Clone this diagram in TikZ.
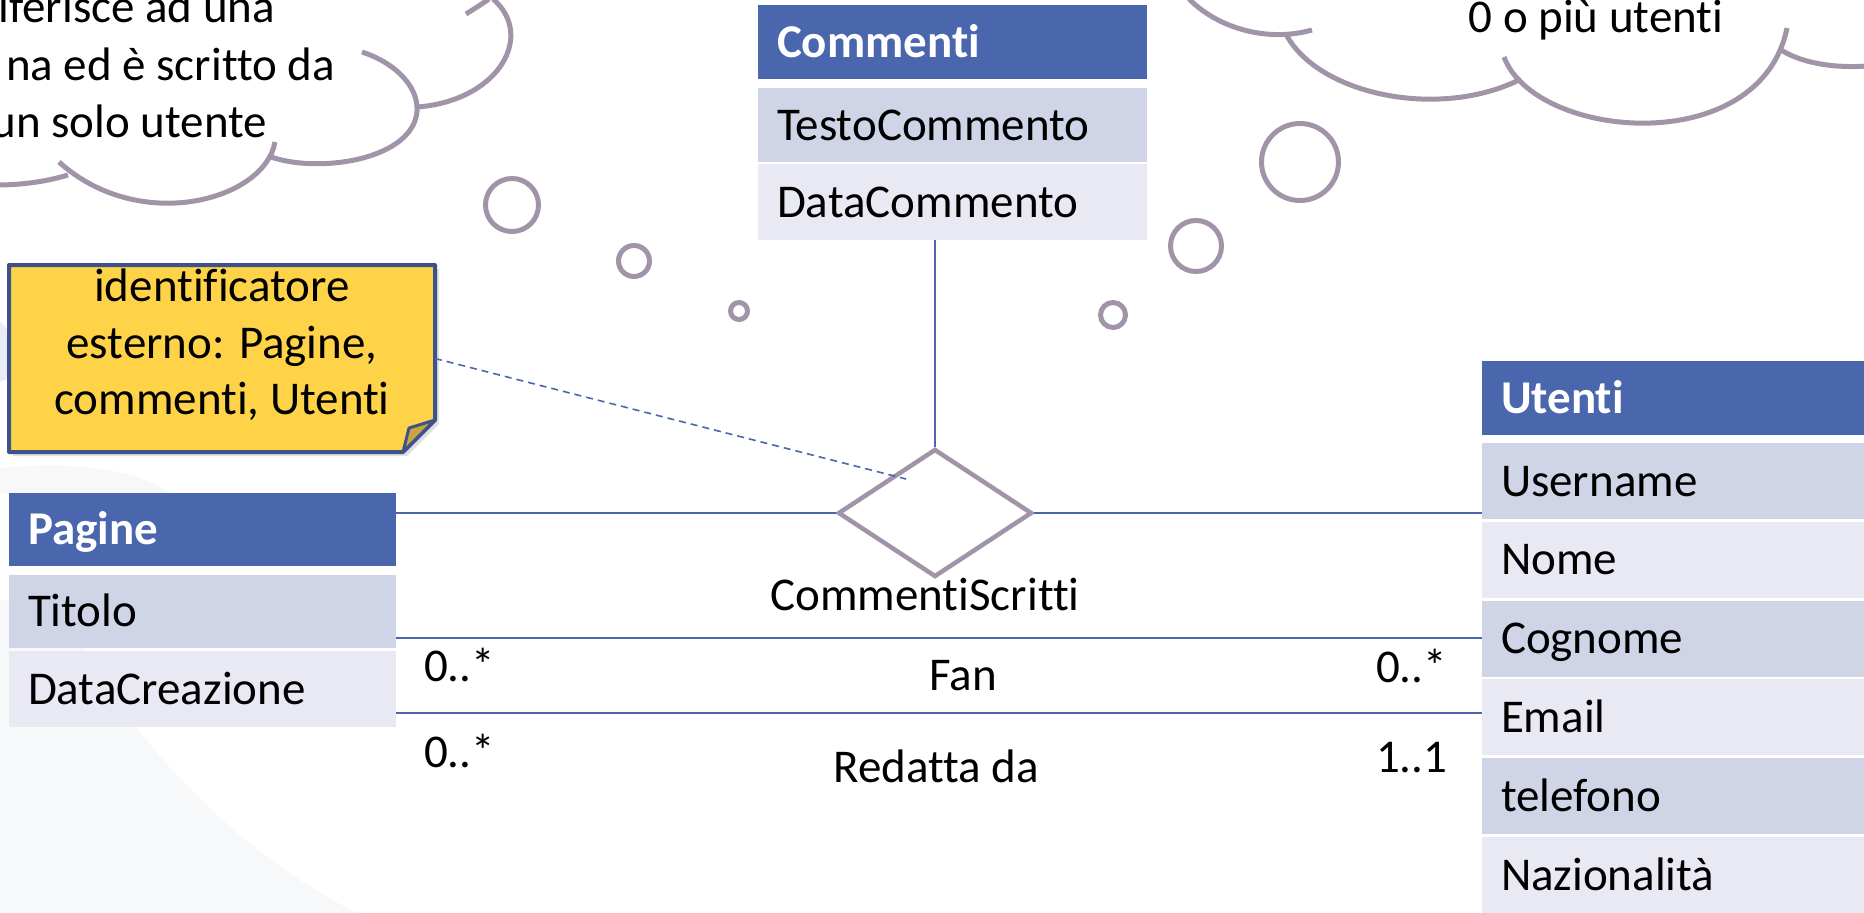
\documentclass[tikz,border=0pt]{standalone}
\usepackage{fontspec}
\setmainfont{Carlito}[Ligatures={NoCommon,NoContextual}]
\usetikzlibrary{shapes.geometric,calc}
\definecolor{hdr}{HTML}{4A66AC}
\definecolor{rowA}{HTML}{CFD4E6}
\definecolor{rowB}{HTML}{E8E9F2}
\definecolor{linkc}{HTML}{4A66AC}
\definecolor{cloudc}{HTML}{A194A8}
\definecolor{noteY}{HTML}{FFD348}
\definecolor{noteB}{HTML}{3D528A}
\definecolor{noteF}{HTML}{C9A43E}
\definecolor{bgA}{HTML}{F7F8FA}
\definecolor{bgB}{HTML}{E8EEF7}
\newcommand\bigf{\fontsize{47}{56.5}\selectfont}
\tikzset{
  txt/.style={font=\bigf, inner sep=0pt, outer sep=0pt},
  cell/.style 2 args={font=\bigf, draw=none, inner xsep=19pt, inner ysep=0pt, outer sep=0pt,
     text height=30pt, text depth=0pt, align=left, anchor=north west,
     minimum height=#1, text width=#2},
  hcell/.style 2 args={cell={#1}{#2}, fill=hdr, text=white, font=\bigf\bfseries},
  conn/.style={draw=linkc, line width=2.2pt},
  cloudline/.style={draw=cloudc, line width=5pt},
  bubble/.style={circle, draw=cloudc, line width=5pt, inner sep=0pt, minimum size=#1},
}
\begin{document}
\begin{tikzpicture}[x=1pt, y=-1pt]
\useasboundingbox (0,0) rectangle (1864,913);
% faint background
\fill[bgA] (60,600) .. controls (110,720) and (230,850) .. (357,913) -- (0,913) -- (0,600) -- cycle;
\fill[bgA] (0,468) .. controls (60,462) and (130,465) .. (170,493) -- (0,493) -- cycle;
\fill[bgB] (0,322) .. controls (15,335) and (25,352) .. (30,375) .. controls (20,375) and (8,378) .. (0,382) -- cycle;

% left cloud
\draw[cloudline] (466,14) .. controls (474,9) and (482,4) .. (489,-1);
\draw[cloudline] (493,-1) .. controls (535,35) and (500,100) .. (418,107);
\draw[cloudline] (362,52) .. controls (405,66) and (428,100) .. (412,127) .. controls (392,162) and (315,172) .. (271,157);
\draw[cloudline] (275,142) .. controls (265,200) and (140,235) .. (59,162);
\draw[cloudline] (68,175) .. controls (45,182) and (20,185) .. (-3,185);
\node[txt, anchor=base east] (lc1) at (275,22) {iferisce ad una};
\node[txt, anchor=base east] (lc2) at (335,80) {na ed è scritto da};
\node[txt, anchor=base east] (lc3) at (267,137) {un solo utente};
\node[bubble=53pt] (b1) at (512,205) {};
\node[bubble=31pt] (b2) at (634,261) {};
\node[bubble=17pt] (b3) at (739,311) {};

% right cloud
\draw[cloudline] (1189,-1) .. controls (1220,30) and (1270,42) .. (1312,30);
\draw[cloudline] (1287,36) .. controls (1320,95) and (1440,120) .. (1521,79);
\draw[cloudline] (1504,57) .. controls (1535,140) and (1760,160) .. (1787,28);
\draw[cloudline] (1781,50) .. controls (1805,65) and (1840,68) .. (1867,66);
\node[txt, anchor=base] (rcTxt) at (1596,32) {0 o più utenti};
\node[bubble=77pt] (b4) at (1300,162) {};
\node[bubble=51pt] (b5) at (1196,246) {};
\node[bubble=25pt] (b6) at (1113,315) {};

% tables
\node[hcell={73pt}{349pt}] (pag) at (9,493) {Pagine};
\node[cell={73pt}{349pt}, fill=rowA] (pagT) at (9,575) {Titolo};
\node[cell={76pt}{349pt}, fill=rowB] (pagD) at (9,651) {DataCreazione};

\node[hcell={74pt}{351pt}] (com) at (758,5) {Commenti};
\node[cell={74pt}{351pt}, fill=rowA] (comT) at (758,88) {TestoCommento};
\node[cell={76pt}{351pt}, fill=rowB] (comD) at (758,164) {DataCommento};

\node[hcell={74pt}{344pt}] (ut) at (1482,361) {Utenti};
\node[cell={76pt}{344pt}, fill=rowA] (ut1) at (1482,443) {Username};
\node[cell={76pt}{344pt}, fill=rowB] (ut2) at (1482,521.8) {Nome};
\node[cell={76pt}{344pt}, fill=rowA] (ut3) at (1482,600.6) {Cognome};
\node[cell={76pt}{344pt}, fill=rowB] (ut4) at (1482,679.4) {Email};
\node[cell={76pt}{344pt}, fill=rowA] (ut5) at (1482,758.2) {telefono};
\node[cell={76pt}{344pt}, fill=rowB] (ut6) at (1482,837) {Nazionalità};

% relationship
\node[diamond, draw=cloudc, line width=4.5pt, fill=white, minimum width=194pt, minimum height=128pt, inner sep=0pt] (rel) at (935,513) {};
\node[txt, anchor=base] (relLbl) at (925,610) {CommentiScritti};
\draw[conn] (rel.west) -- (rel.west -| pag.east);
\draw[conn] (rel.east) -- (rel.east -| ut1.west);
\draw[conn] (rel.north) -- (rel.north |- comD.south);

% associations
\coordinate (fanA) at ($(pagT.south east)+(0,-10)$);
\coordinate (redA) at ($(pagD.south east)+(0,-14)$);
\draw[conn] (fanA) -- (fanA -| ut.west);
\draw[conn] (redA) -- (redA -| ut.west);
\node[txt, anchor=base west] (m1) at (424,681) {0..*};
\node[txt, anchor=base] (fanLbl) at (963,690) {Fan};
\node[txt, anchor=base west] (m2) at (1376,682) {0..*};
\node[txt, anchor=base west] (m3) at (424,767) {0..*};
\node[txt, anchor=base] (redLbl) at (936,782) {Redatta da};
\node[txt, anchor=base west] (m4) at (1376,772) {1..1};

% note
\node[draw=none, minimum width=426pt, minimum height=187pt, inner sep=0pt, outer sep=0pt, anchor=north west] (note) at (9,265) {};
\fill[black, opacity=0.12] ($(note.north west)+(4,4)$) -- ($(note.north east)+(4,4)$) -- ($(note.south east)+(4,-28)$) -- ($(note.south east)+(-28,4)$) -- ($(note.south west)+(4,4)$) -- cycle;
\filldraw[fill=noteY, draw=noteB, line width=4pt, line join=round] (note.north west) -- (note.north east) -- ($(note.south east)+(0,-32)$) -- ($(note.south east)+(-32,0)$) -- (note.south west) -- cycle;
\filldraw[fill=noteF, draw=noteB, line width=3pt, line join=round] ($(note.south east)+(-32,0)$) -- ($(note.south east)+(-26,-24)$) -- ($(note.south east)+(0,-32)$) -- cycle;
\node[txt, align=center] (noteTxt) at (222,345) {identificatore\\esterno: Pagine,\\commenti, Utenti};
\coordinate (dashEnd) at ($(rel.center)+(-29,-34)$);
\draw[conn, line width=1.6pt, dash pattern=on 7pt off 5pt] (note.east) -- (dashEnd);
\end{tikzpicture}
\end{document}
